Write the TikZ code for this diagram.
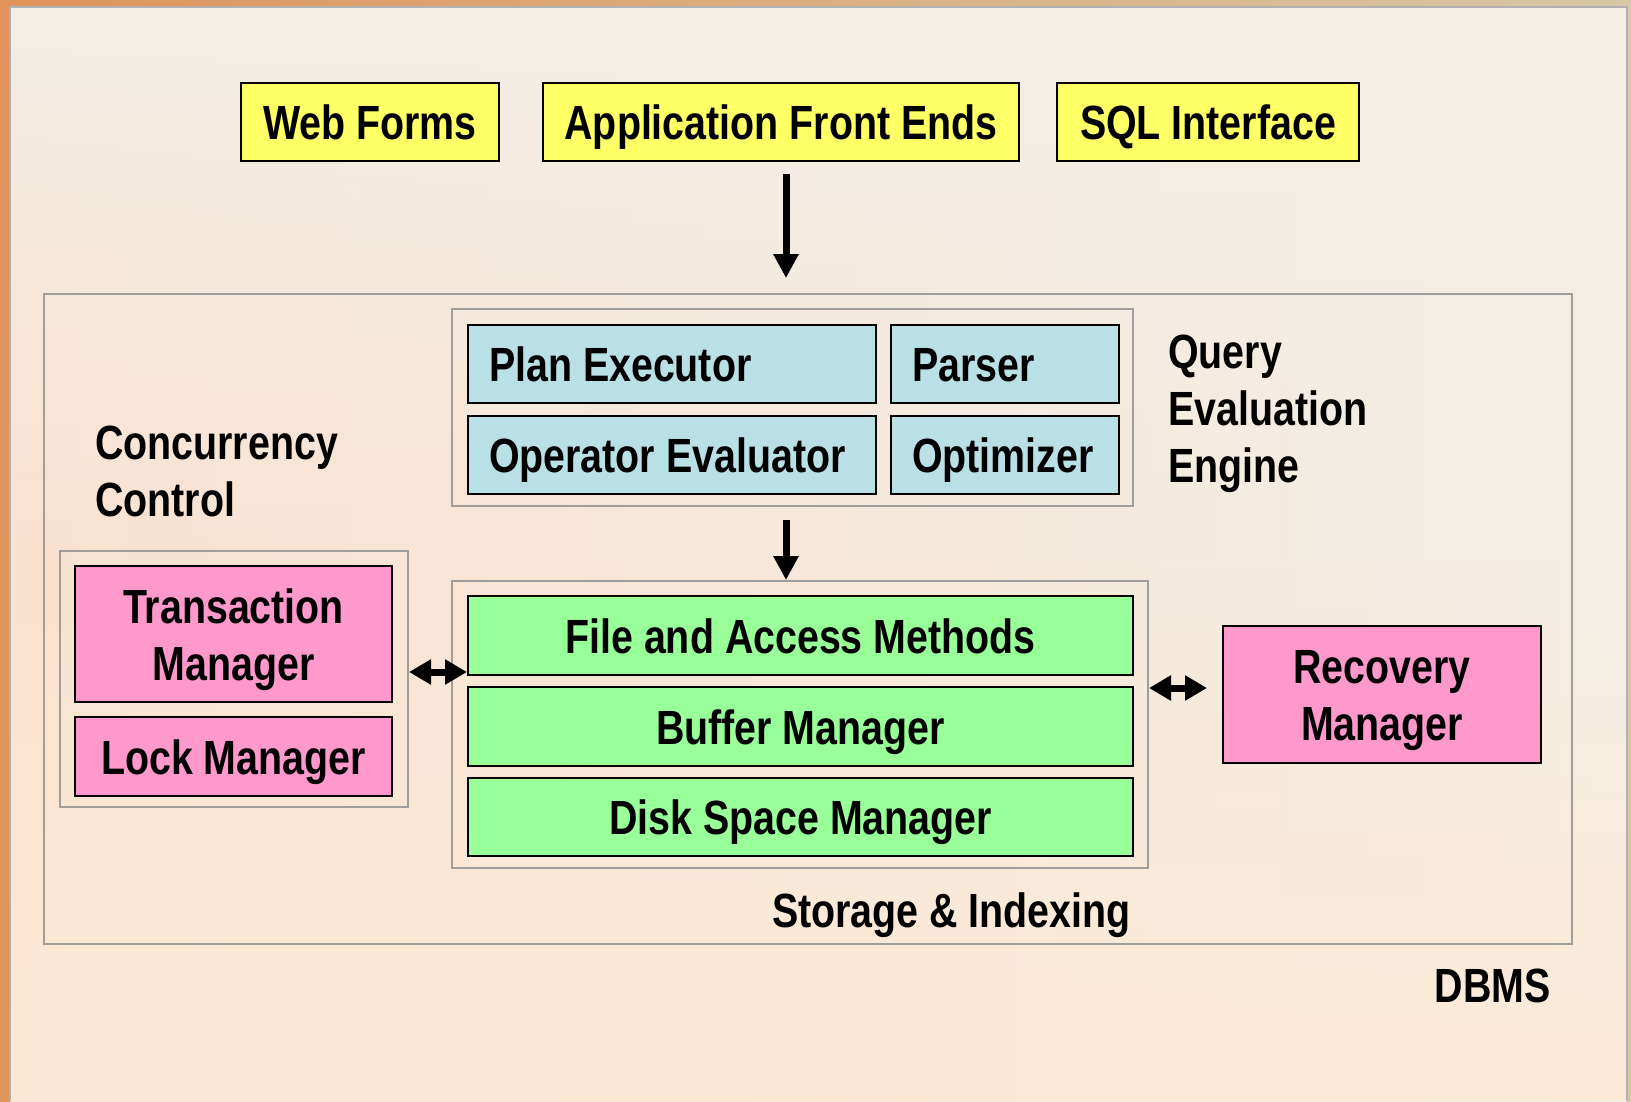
\documentclass[tikz,border=0pt]{standalone}
\usepackage{fontspec}
\setmainfont{Liberation Sans}[FakeStretch=0.82]
\usetikzlibrary{arrows.meta,fadings}

\definecolor{yel}{RGB}{255,255,102}
\definecolor{qblue}{RGB}{185,224,228}
\definecolor{sgreen}{RGB}{153,255,153}
\definecolor{cpink}{RGB}{255,153,204}
\definecolor{grp}{RGB}{158,158,158}
\definecolor{bgpeach}{RGB}{250,226,208}
\definecolor{bgcream}{RGB}{243,238,230}
\definecolor{bglight}{RGB}{252,234,214}
\definecolor{edgeor}{RGB}{224,148,92}
\definecolor{edgetan}{RGB}{214,200,165}

\begin{document}
\begin{tikzpicture}[x=1pt,y=-1pt,
  every node/.style={font=\fontsize{48}{57}\selectfont\bfseries, inner sep=0pt, text height=35pt, text depth=0pt},
  twoline/.style={text height=92pt},
  threeline/.style={text height=149pt},
  box/.style={draw=black, line width=2pt, minimum height=78pt},
  lbox/.style={box, inner xsep=21pt, align=flush left},
  cbox/.style={box, align=center},
  grpbox/.style={draw=grp, line width=2pt, inner sep=0pt},
  lbl/.style={align=flush left},
  thickarrow/.style={line width=7pt, -{Triangle[length=24pt,width=24pt]}},
  dblarrow/.style={line width=7pt, {Triangle[length=22pt,width=24pt]}-{Triangle[length=22pt,width=24pt]}}
]
\useasboundingbox (0,0) rectangle (1631,1101);

% ---- background ----
\shade[left color=edgeor, right color=edgetan] (0,0) rectangle (1631,1101);
\shade[left color=bgpeach, right color=bgcream] (10,7) rectangle (1627,1101);
\fill[bgcream, path fading=south] (10,7) rectangle (1627,560);
\fill[bglight, path fading=north] (10,560) rectangle (1627,1101);
\draw[grp!80, line width=1.5pt] (10,1101) -- (10,7) -- (1627,7) -- (1627,1101);

% ---- top row ----
\node[cbox, fill=yel, minimum width=258pt] (wf) at (370,122) {Web Forms};
\node[cbox, fill=yel, minimum width=476pt] (afe) at (781,122) {Application Front Ends};
\node[cbox, fill=yel, minimum width=302pt] (sql) at (1208,122) {SQL Interface};

% ---- DBMS frame ----
\node[grpbox, minimum width=1528pt, minimum height=650pt] (dbms) at (808,619) {};

% ---- query evaluation engine ----
\node[grpbox, minimum width=681pt, minimum height=197pt] (qee) at (792.5,407.5) {};
\node[lbox, fill=qblue, minimum width=408pt, text width=366pt] (pe) at (672,364) {Plan Executor};
\node[lbox, fill=qblue, minimum width=228pt, text width=186pt] (par) at (1005,364) {Parser};
\node[lbox, fill=qblue, minimum width=408pt, text width=366pt] (oe) at (672,455) {Operator Evaluator};
\node[lbox, fill=qblue, minimum width=228pt, text width=186pt] (opt) at (1005,455) {Optimizer};
\node[lbl, threeline, anchor=west] (qeel) at (1168,408) {Query\\Evaluation\\Engine};

% ---- concurrency control ----
\node[lbl, twoline, anchor=west] (ccl) at (95,470) {Concurrency\\Control};
\node[grpbox, minimum width=348pt, minimum height=256pt] (cc) at (234,679) {};
\node[cbox, twoline, fill=cpink, minimum width=317pt, minimum height=136pt] (tm) at (233.5,634) {Transaction\\Manager};
\node[cbox, fill=cpink, minimum width=317pt, minimum height=79pt] (lm) at (233.5,756.5) {Lock Manager};

% ---- storage & indexing ----
\node[grpbox, minimum width=696pt, minimum height=287pt] (st) at (800,724.5) {};
\node[cbox, fill=sgreen, minimum width=665pt, minimum height=79pt] (fam) at (800.5,635.5) {File and Access Methods};
\node[cbox, fill=sgreen, minimum width=665pt, minimum height=79pt] (bm) at (800.5,726.5) {Buffer Manager};
\node[cbox, fill=sgreen, minimum width=665pt, minimum height=78pt] (dsm) at (800.5,817) {Disk Space Manager};
\node[anchor=east] (stl) at (1131,910) {Storage \& Indexing};

% ---- recovery ----
\node[cbox, twoline, fill=cpink, minimum width=318pt, minimum height=137pt] (rm) at (1382,694.5) {Recovery\\Manager};

% ---- DBMS label ----
\node[anchor=east] (dbmsl) at (1551,985) {DBMS};

% ---- arrows ----
\coordinate (a1s) at (786,174);
\coordinate (a1e) at (786,278);
\draw[thickarrow] (a1s) -- (a1e);
\coordinate (a2s) at (786,520);
\draw[thickarrow] (a2s) -- (a2s |- st.north);
\coordinate (la) at (0,672);
\draw[dblarrow] (cc.east |- la) -- (fam.west |- la);
\coordinate (ra) at (0,688);
\draw[dblarrow, shorten >=15pt] (st.east |- ra) -- (rm.west |- ra);
\end{tikzpicture}
\end{document}
